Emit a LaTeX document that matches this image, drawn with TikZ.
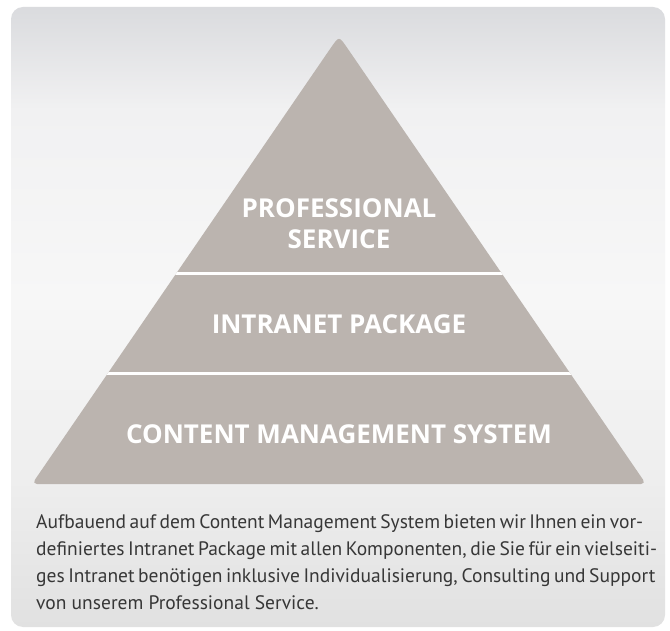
\documentclass[tikz,border=0pt]{standalone}
\usepackage{fontspec}
\setmainfont{PT Sans}
\newfontfamily\headfont{Open Sans}
\definecolor{pyr}{RGB}{187,180,175}
\definecolor{captext}{RGB}{55,55,55}
\definecolor{bgA}{RGB}{218,219,222}
\definecolor{bgB}{RGB}{241,241,242}
\definecolor{bgC}{RGB}{247,247,247}
\definecolor{bgD}{RGB}{238,238,238}
\definecolor{bgE}{RGB}{225,225,225}
\pgfdeclareverticalshading{bgshade}{100bp}{color(0bp)=(bgE); color(25bp)=(bgE); color(36.9bp)=(bgD); color(51.4bp)=(bgC); color(66.7bp)=(bgB); color(75bp)=(bgA); color(100bp)=(bgA)}
\tikzset{
  head/.style={anchor=base, inner sep=0pt, text=white, font=\headfont\bfseries\fontsize{26}{31}\selectfont},
  captionline/.style={anchor=base west, inner sep=0pt, text=captext, font=\fontsize{19.5}{27}\selectfont},
  gap/.style={draw=white, line width=3pt}
}
\begin{document}
\begin{tikzpicture}[x=1pt,y=-1pt]
\useasboundingbox (0,0) rectangle (670,631);
\fill[white] (0,0) rectangle (670,631);
\path[shading=bgshade, rounded corners=12pt] (11,7) rectangle (665,627);
% pyramid
\fill[pyr, rounded corners=5pt] (339,484) -- (32,484) -- (328.3,51.5) .. controls (339,36) .. (349.7,51.5) -- (646,484) -- cycle;
\begin{scope}
  \clip (339,484) -- (32,484) -- (339,36) -- (646,484) -- cycle;
  \coordinate (g1l) at (0,274); \coordinate (g1r) at (670,274);
  \coordinate (g2l) at (0,373); \coordinate (g2r) at (670,373);
  \draw[gap] (g1l) -- (g1r);
  \draw[gap] (g2l) -- (g2r);
\end{scope}
\node[head] (ps1) at (339,218) {PROFESSIONAL};
\node[head] (ps2) at (339,249) {SERVICE};
\node[head] (ip) at (339,334) {INTRANET PACKAGE};
\node[head] (cms) at (339,443) {CONTENT MANAGEMENT SYSTEM};
% caption
\node[captionline] (c1) at (36,528) {\makebox[607pt][s]{Aufbauend auf dem Content Management System bieten wir Ihnen ein vor-}};
\node[captionline] (c2) at (36,555) {\makebox[607pt][s]{definiertes Intranet Package mit allen Komponenten, die Sie für ein vielseiti-}};
\node[captionline] (c3) at (36,582) {\makebox[607pt][s]{ges Intranet benötigen inklusive Individualisierung, Consulting und Support}};
\node[captionline] (c4) at (36,609) {von unserem Professional Service.};
\end{tikzpicture}
\end{document}
